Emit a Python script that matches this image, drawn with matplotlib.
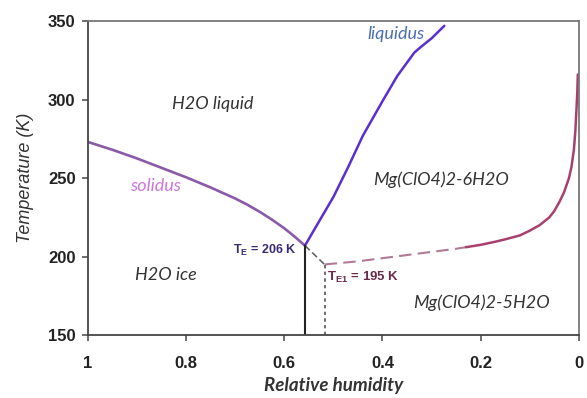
import matplotlib
matplotlib.use("Agg")
import matplotlib.pyplot as plt

# Solidus (ice / liquid boundary)
solidus_rh = [1.0, 0.95, 0.9, 0.85, 0.8, 0.75, 0.7, 0.675, 0.65, 0.625, 0.6, 0.58, 0.558]
solidus_T = [273, 268, 262.5, 256.5, 250.5, 244, 237, 233, 228.5, 223.5, 218, 213, 207]

# Liquidus
liquidus_rh = [0.558, 0.53, 0.50, 0.47, 0.44, 0.42, 0.40, 0.37, 0.335, 0.32, 0.30, 0.274]
liquidus_T = [207, 222, 238, 257, 277, 288, 299, 315, 330, 334, 339, 347]

# Eutectic link (TE -> TE1)
link_rh = [0.558, 0.518]
link_T = [207, 195]

# Hexahydrate / pentahydrate boundary: dashed (metastable) part and solid part
dash_rh = [0.518, 0.45, 0.40, 0.35, 0.30, 0.25, 0.23]
dash_T = [195, 197, 199, 201, 203, 205, 206]
hyd_rh = [0.23, 0.2, 0.17, 0.15, 0.12, 0.1, 0.08, 0.06, 0.05, 0.04, 0.03, 0.02,
          0.015, 0.01, 0.007, 0.005, 0.003, 0.002]
hyd_T = [206, 207.5, 209.5, 211, 213.5, 216.5, 220, 225, 229, 234.5, 241, 250,
         257, 268, 280, 292, 305, 316]

TE_rh, TE_T = 0.558, 206
TE1_rh, TE1_T = 0.518, 195

xticks = [1, 0.8, 0.6, 0.4, 0.2, 0]
xticklabels = ["1", "0.8", "0.6", "0.4", "0.2", "0"]
yticks = [150, 200, 250, 300, 350]

fig = plt.figure(figsize=(5.87, 3.98), dpi=100)
ax = fig.add_axes([0.150, 0.158, 0.836, 0.789])

ax.plot(solidus_rh, solidus_T, color="#8a5aa8", lw=1.9, solid_capstyle="round",
        solid_joinstyle="round")
ax.plot(liquidus_rh, liquidus_T, color="#5a2fd0", lw=1.8, solid_capstyle="round",
        solid_joinstyle="round")
ax.plot(link_rh, link_T, color="#666666", lw=1.2, ls=(0, (4, 2)))
ax.plot(dash_rh, dash_T, color="#b07a96", lw=1.5, ls=(0, (6, 3)))
ax.plot(hyd_rh, hyd_T, color="#a8406e", lw=1.8, solid_capstyle="round",
        solid_joinstyle="round")
ax.plot([TE_rh, TE_rh], [150, TE_T + 1], color="#222222", lw=1.5)
ax.plot([TE1_rh, TE1_rh], [150, TE1_T], color="#555555", lw=1.2, ls=(0, (2, 2)))

ax.set_xlim(1, 0)
ax.set_ylim(150, 350)
ax.set_xticks(xticks)
ax.set_xticklabels(xticklabels)
ax.set_yticks(yticks)
for lab in ax.get_xticklabels() + ax.get_yticklabels():
    lab.set_fontfamily("Liberation Sans")
    lab.set_fontweight("bold")
    lab.set_fontsize(12)
    lab.set_color("#222222")
ax.tick_params(direction="out", length=4, width=1.2, color="#555555", pad=5)
ax.tick_params(axis="x", pad=11)
for sp in ax.spines.values():
    sp.set_color("#777777")
    sp.set_linewidth(1.3)
ax.spines["left"].set_color("#444444")
ax.spines["bottom"].set_color("#444444")

ax.set_xlabel("Relative humidity", fontfamily="Lato", fontstyle="italic",
              fontweight="bold", fontsize=13.5, color="#333333", labelpad=4)
ax.set_ylabel("Temperature (K)", fontfamily="Liberation Sans", fontstyle="italic",
              fontsize=13, color="#333333", labelpad=10)

tkw = dict(fontfamily="Lato", fontstyle="italic", fontsize=13, color="#333333",
           ha="center", va="center")
ax.text(0.745, 297, "H2O liquid", **tkw)
ax.text(0.841, 188, "H2O ice", **tkw)
ax.text(0.28, 249, "Mg(ClO4)2-6H2O", **tkw)
ax.text(0.199, 170.5, "Mg(ClO4)2-5H2O", **tkw)
ax.text(0.862, 245, "solidus", fontfamily="Lato", fontstyle="italic",
        fontsize=13, color="#cc77dd", ha="center", va="center")
ax.text(0.372, 342, "liquidus", fontfamily="Lato", fontstyle="italic",
        fontsize=13, color="#4a6fb0", ha="center", va="center")
ax.text(0.575, 204, r"T$_\mathregular{E}$ = 206 K", fontfamily="Liberation Sans",
        fontweight="bold", fontsize=9, color="#3a2a70", ha="right", va="center")
ax.text(0.514, 187, r"T$_\mathregular{E1}$ = 195 K", fontfamily="Liberation Sans",
        fontweight="bold", fontsize=9.5, color="#6a2a4a", ha="left", va="center")

fig.savefig("out.png", dpi=100)
